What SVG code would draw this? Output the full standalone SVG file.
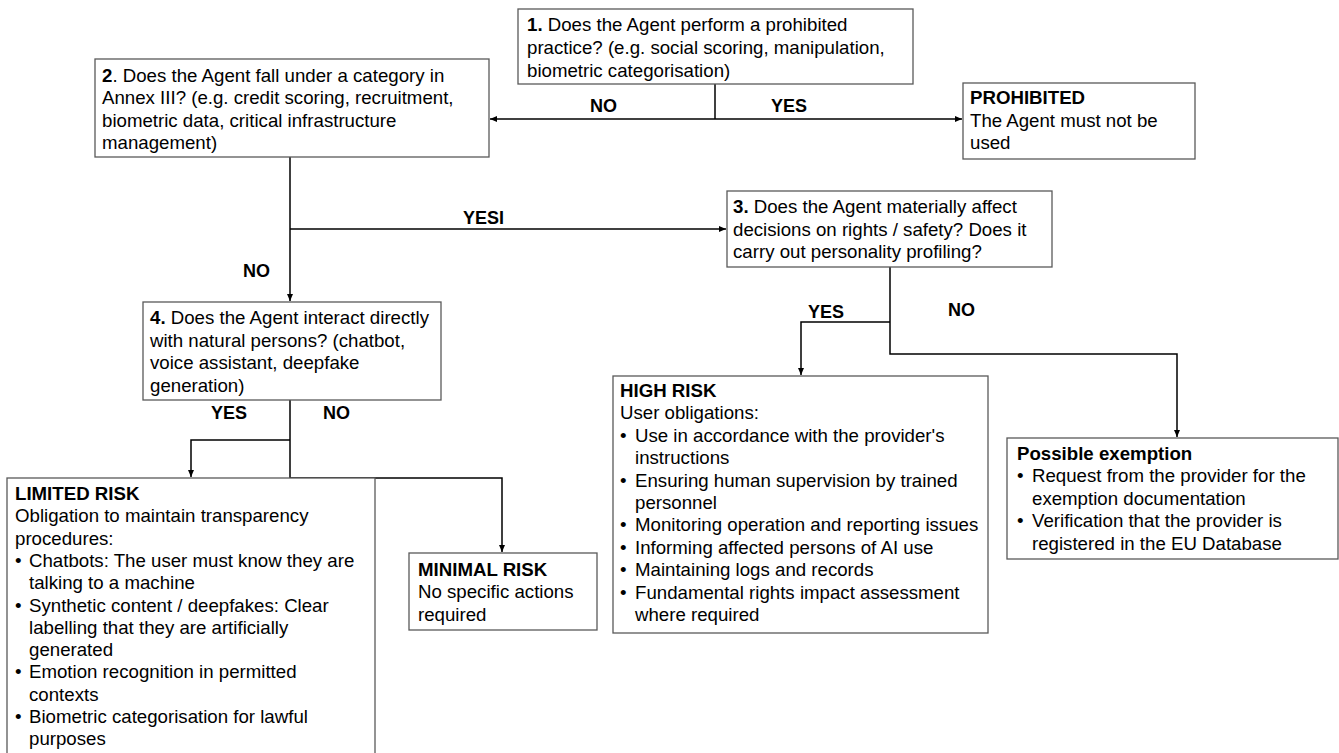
<svg xmlns="http://www.w3.org/2000/svg" width="1339" height="753" viewBox="0 0 1339 753">
<style>
.box{fill:#fff;stroke:#595959;stroke-width:1.3}
.t{font-family:"Liberation Sans",Arial,sans-serif;font-size:18.67px;fill:#000}
.b{font-weight:bold}
.lbl{font-family:"Liberation Sans",Arial,sans-serif;font-size:18px;font-weight:bold;fill:#000}
.c{fill:none;stroke:#000;stroke-width:1.5}
</style>
<defs>
<marker id="ar" markerUnits="userSpaceOnUse" markerWidth="8" markerHeight="7" refX="7" refY="3.5" orient="auto">
<path d="M0,0.5 L7,3.5 L0,6.5 z" fill="#000"/>
</marker>
</defs>
<rect width="1339" height="753" fill="#fff"/>
<g id="connectors">
<path class="c" d="M715 84 V119"/>
<path class="c" d="M715 119 H490" marker-end="url(#ar)"/>
<path class="c" d="M715 119 H962" marker-end="url(#ar)"/>
<path class="c" d="M290 157 V301" marker-end="url(#ar)"/>
<path class="c" d="M290 229 H726" marker-end="url(#ar)"/>
<path class="c" d="M890 267 V354 H1177 V437" marker-end="url(#ar)"/>
<path class="c" d="M890 322 H801 V375" marker-end="url(#ar)"/>
<path class="c" d="M290 400 V478 H502 V552" marker-end="url(#ar)"/>
<path class="c" d="M290 440 H191 V477" marker-end="url(#ar)"/>
<text class="lbl" x="590" y="112">NO</text>
<text class="lbl" x="771" y="112">YES</text>
<text class="lbl" x="463" y="224">YESI</text>
<text class="lbl" x="243" y="277">NO</text>
<text class="lbl" x="808" y="318">YES</text>
<text class="lbl" x="948" y="316">NO</text>
<text class="lbl" x="211" y="419">YES</text>
<text class="lbl" x="323" y="419">NO</text>
</g>
<g id="q1">
<rect class="box" x="518" y="9" width="395" height="75"/>
<text class="t" x="527" y="31"><tspan class="b">1.</tspan> Does the Agent perform a prohibited</text>
<text class="t" x="527" y="54">practice? (e.g. social scoring, manipulation,</text>
<text class="t" x="527" y="77">biometric categorisation)</text>
</g>
<g id="q2">
<rect class="box" x="95" y="59" width="394" height="98"/>
<text class="t" x="102" y="81.5"><tspan class="b">2</tspan>. Does the Agent fall under a category in</text>
<text class="t" x="102" y="104">Annex III? (e.g. credit scoring, recruitment,</text>
<text class="t" x="102" y="126.5">biometric data, critical infrastructure</text>
<text class="t" x="102" y="149">management)</text>
</g>
<g id="prohibited">
<rect class="box" x="963" y="83" width="232" height="76"/>
<text class="t b" x="970" y="104">PROHIBITED</text>
<text class="t" x="970" y="126.5">The Agent must not be</text>
<text class="t" x="970" y="149">used</text>
</g>
<g id="q3">
<rect class="box" x="727" y="191" width="325" height="76"/>
<text class="t" x="733" y="213"><tspan class="b">3.</tspan> Does the Agent materially affect</text>
<text class="t" x="733" y="235.5">decisions on rights / safety? Does it</text>
<text class="t" x="733" y="258">carry out personality profiling?</text>
</g>
<g id="q4">
<rect class="box" x="143" y="302" width="298" height="98"/>
<text class="t" x="150" y="324"><tspan class="b">4.</tspan> Does the Agent interact directly</text>
<text class="t" x="150" y="346.5">with natural persons? (chatbot,</text>
<text class="t" x="150" y="369">voice assistant, deepfake</text>
<text class="t" x="150" y="391.5">generation)</text>
</g>
<g id="high-risk">
<rect class="box" x="613" y="376" width="375" height="257"/>
<text class="t b" x="620" y="397">HIGH RISK</text>
<text class="t" x="620" y="419.4">User obligations:</text>
<text class="t" x="620" y="441.8">•</text><text class="t" x="635" y="441.8">Use in accordance with the provider's</text>
<text class="t" x="635" y="464.2">instructions</text>
<text class="t" x="620" y="486.6">•</text><text class="t" x="635" y="486.6">Ensuring human supervision by trained</text>
<text class="t" x="635" y="509">personnel</text>
<text class="t" x="620" y="531.4">•</text><text class="t" x="635" y="531.4">Monitoring operation and reporting issues</text>
<text class="t" x="620" y="553.8">•</text><text class="t" x="635" y="553.8">Informing affected persons of AI use</text>
<text class="t" x="620" y="576.2">•</text><text class="t" x="635" y="576.2">Maintaining logs and records</text>
<text class="t" x="620" y="598.6">•</text><text class="t" x="635" y="598.6">Fundamental rights impact assessment</text>
<text class="t" x="635" y="621">where required</text>
</g>
<g id="exemption">
<rect class="box" x="1007" y="438" width="331" height="121"/>
<text class="t b" x="1017" y="460">Possible exemption</text>
<text class="t" x="1017" y="482.4">•</text><text class="t" x="1032" y="482.4">Request from the provider for the</text>
<text class="t" x="1032" y="504.8">exemption documentation</text>
<text class="t" x="1017" y="527.2">•</text><text class="t" x="1032" y="527.2">Verification that the provider is</text>
<text class="t" x="1032" y="549.6">registered in the EU Database</text>
</g>
<g id="limited-risk">
<rect class="box" x="7" y="478" width="368" height="290"/>
<text class="t b" x="15" y="500">LIMITED RISK</text>
<text class="t" x="15" y="522.3">Obligation to maintain transparency</text>
<text class="t" x="15" y="544.6">procedures:</text>
<text class="t" x="15" y="566.9">•</text><text class="t" x="29" y="566.9">Chatbots: The user must know they are</text>
<text class="t" x="29" y="589.2">talking to a machine</text>
<text class="t" x="15" y="611.5">•</text><text class="t" x="29" y="611.5">Synthetic content / deepfakes: Clear</text>
<text class="t" x="29" y="633.8">labelling that they are artificially</text>
<text class="t" x="29" y="656.1">generated</text>
<text class="t" x="15" y="678.4">•</text><text class="t" x="29" y="678.4">Emotion recognition in permitted</text>
<text class="t" x="29" y="700.7">contexts</text>
<text class="t" x="15" y="723">•</text><text class="t" x="29" y="723">Biometric categorisation for lawful</text>
<text class="t" x="29" y="745.3">purposes</text>
</g>
<g id="minimal-risk">
<rect class="box" x="409" y="553" width="188" height="77"/>
<text class="t b" x="418" y="576">MINIMAL RISK</text>
<text class="t" x="418" y="598.4">No specific actions</text>
<text class="t" x="418" y="620.8">required</text>
</g>
</svg>
